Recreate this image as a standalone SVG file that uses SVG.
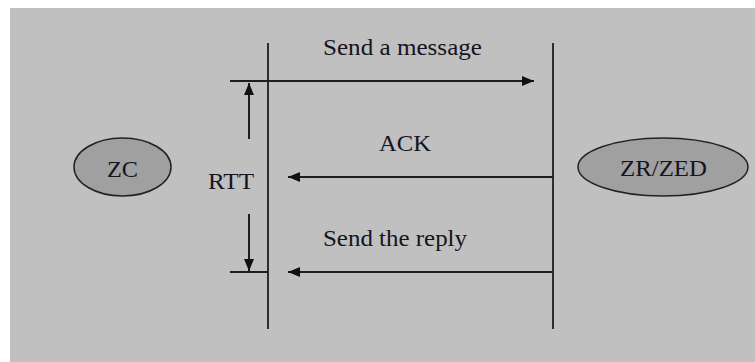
<svg xmlns="http://www.w3.org/2000/svg" width="755" height="362" viewBox="0 0 755 362">
  <style>
    text { font-family: 'Liberation Serif', 'DejaVu Serif', serif; font-stretch: condensed; font-size: 23px; fill: #14141e; }
    .life { stroke: #2e2e2e; stroke-width: 2; fill: none; }
    .msg { stroke: #1e1e1e; stroke-width: 2; fill: none; }
    .node { fill: #a0a0a0; stroke: #222; stroke-width: 1.5; }
  </style>
  <defs>
    <marker id="head" viewBox="0 0 12 10" refX="12" refY="5" markerWidth="12" markerHeight="10" markerUnits="userSpaceOnUse" orient="auto">
      <path d="M0,0 L12,5 L0,10 Z" fill="#111"/>
    </marker>
  </defs>

  <!-- backdrop -->
  <rect x="10" y="8" width="745" height="354" fill="#c0c0c0"/>

  <!-- lifelines -->
  <g id="lifelines">
    <line class="life" x1="268" y1="43" x2="268" y2="329"/>
    <line class="life" x1="553" y1="43" x2="553" y2="329"/>
  </g>

  <!-- end nodes -->
  <g id="zc">
    <ellipse class="node" cx="122.5" cy="167" rx="48.5" ry="29"/>
    <text x="107" y="177" textLength="31" lengthAdjust="spacingAndGlyphs">ZC</text>
  </g>
  <g id="zr-zed">
    <ellipse class="node" cx="663" cy="167" rx="85" ry="29"/>
    <text x="620" y="176" textLength="87" lengthAdjust="spacingAndGlyphs">ZR/ZED</text>
  </g>

  <!-- messages and RTT span -->
  <g id="connectors">
    <line class="msg" x1="230" y1="81" x2="534" y2="81" marker-end="url(#head)"/>
    <line class="msg" x1="553" y1="177" x2="288" y2="177" marker-end="url(#head)"/>
    <line class="msg" x1="553" y1="272" x2="288" y2="272" marker-end="url(#head)"/>
    <line class="msg" x1="230" y1="272" x2="268" y2="272"/>
    <line class="msg" x1="249" y1="139" x2="249" y2="83" marker-end="url(#head)"/>
    <line class="msg" x1="249" y1="214" x2="249" y2="271" marker-end="url(#head)"/>
  </g>

  <g id="labels">
    <text x="323" y="55" textLength="159" lengthAdjust="spacingAndGlyphs">Send a message</text>
    <text x="379" y="151" textLength="52" lengthAdjust="spacingAndGlyphs">ACK</text>
    <text x="208" y="189" textLength="46" lengthAdjust="spacingAndGlyphs">RTT</text>
    <text x="323" y="246" textLength="144" lengthAdjust="spacingAndGlyphs">Send the reply</text>
  </g>
</svg>
